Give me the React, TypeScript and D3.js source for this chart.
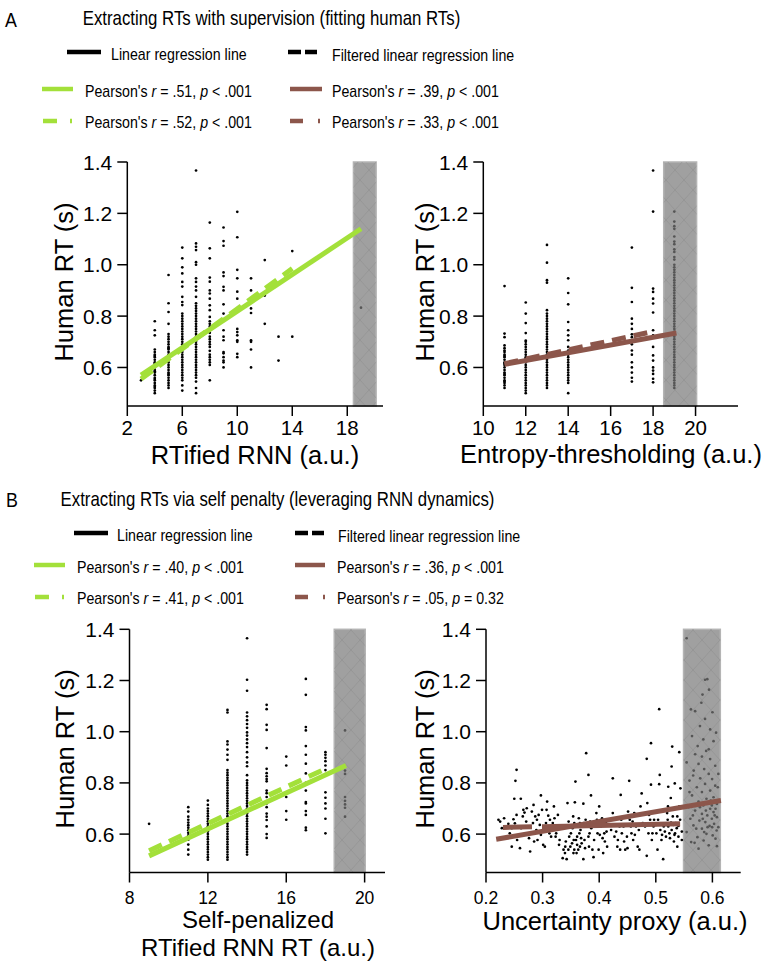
import React from "react";
import * as d3 from "d3";

const FONT = "'Liberation Sans', Arial, Helvetica, sans-serif";
const GREEN = "#a3e03a";
const BROWN = "#8c564b";

// ---------- data ----------
// Panel A-left: RTified RNN (a.u.) columns -> human RTs
const colsAL: [number, number[]][] = [
  [3, [0.55]],
  [4, [0.78, 0.745, 0.725, 0.67, 0.66, 0.65, 0.645, 0.64, 0.63, 0.62, 0.615, 0.61, 0.6, 0.59, 0.585, 0.58, 0.57, 0.56, 0.555, 0.55, 0.54, 0.53, 0.525, 0.52, 0.51, 0.5]],
  [5, [0.96, 0.85, 0.816, 0.77, 0.73, 0.72, 0.71, 0.7, 0.69, 0.68, 0.675, 0.67, 0.66, 0.65, 0.64, 0.635, 0.63, 0.62, 0.61, 0.6, 0.59, 0.58, 0.575, 0.57, 0.56, 0.55, 0.54, 0.53, 0.52]],
  [6, [1.067, 1.025, 0.99, 0.966, 0.933, 0.915, 0.875, 0.855, 0.843, 0.81, 0.8, 0.79, 0.78, 0.77, 0.76, 0.75, 0.74, 0.73, 0.72, 0.71, 0.7, 0.69, 0.68, 0.67, 0.66, 0.65, 0.64, 0.63, 0.62, 0.61, 0.6, 0.59, 0.58, 0.57, 0.56, 0.55, 0.53, 0.51]],
  [7, [1.367, 1.083, 1.07, 1.057, 1.01, 1.0, 0.947, 0.933, 0.915, 0.9, 0.875, 0.85, 0.84, 0.83, 0.82, 0.81, 0.8, 0.79, 0.78, 0.77, 0.76, 0.75, 0.74, 0.73, 0.72, 0.71, 0.7, 0.69, 0.68, 0.67, 0.66, 0.65, 0.64, 0.63, 0.62, 0.61, 0.6, 0.59, 0.58, 0.57, 0.56, 0.545, 0.52, 0.5]],
  [8, [1.164, 1.064, 1.025, 0.95, 0.934, 0.9, 0.888, 0.868, 0.842, 0.823, 0.797, 0.78, 0.77, 0.76, 0.745, 0.735, 0.72, 0.71, 0.7, 0.69, 0.68, 0.665, 0.65, 0.64, 0.63, 0.62, 0.61, 0.55]],
  [9, [1.145, 1.092, 1.074, 0.97, 0.956, 0.914, 0.9, 0.846, 0.81, 0.784, 0.745, 0.72, 0.706, 0.66, 0.655, 0.64, 0.627, 0.62, 0.6]],
  [10, [1.206, 1.107, 0.98, 0.947, 0.895, 0.868, 0.75, 0.738, 0.725, 0.706, 0.7, 0.653, 0.64]],
  [11, [0.947, 0.9, 0.83, 0.812, 0.706, 0.7, 0.67, 0.6]],
  [12, [1.018, 0.88, 0.77]],
  [13, [0.72, 0.627]],
  [14, [1.053, 0.72]],
  [19, [0.833]],
];

// Panel A-right: Entropy-thresholding (a.u.)
const colsAR: [number, number[]][] = [
  [11, [0.917, 0.732, 0.718, 0.686, 0.675, 0.666, 0.66, 0.65, 0.645, 0.64, 0.63, 0.62, 0.615, 0.61, 0.6, 0.59, 0.58, 0.575, 0.57, 0.56, 0.55, 0.545, 0.54, 0.53, 0.52]],
  [12, [0.853, 0.81, 0.773, 0.734, 0.705, 0.7, 0.69, 0.68, 0.67, 0.66, 0.65, 0.64, 0.635, 0.63, 0.62, 0.61, 0.6, 0.59, 0.58, 0.57, 0.56, 0.55, 0.54, 0.53, 0.52, 0.51, 0.5]],
  [13, [1.077, 1.008, 0.94, 0.93, 0.823, 0.81, 0.8, 0.79, 0.78, 0.77, 0.76, 0.75, 0.74, 0.73, 0.72, 0.71, 0.7, 0.69, 0.68, 0.67, 0.66, 0.65, 0.64, 0.63, 0.62, 0.61, 0.6, 0.59, 0.58, 0.57, 0.56, 0.55, 0.54, 0.53, 0.52]],
  [14, [0.947, 0.89, 0.846, 0.777, 0.745, 0.725, 0.706, 0.68, 0.666, 0.65, 0.64, 0.63, 0.62, 0.61, 0.6, 0.59, 0.58, 0.57, 0.56, 0.55, 0.54, 0.5]],
  [17, [1.067, 0.91, 0.855, 0.79, 0.77, 0.75, 0.729, 0.718, 0.69, 0.666, 0.65, 0.62, 0.6, 0.58, 0.56, 0.545]],
  [18, [1.367, 1.207, 0.907, 0.894, 0.868, 0.849, 0.814, 0.745, 0.725, 0.68, 0.647, 0.627, 0.6, 0.588, 0.575, 0.556, 0.542]],
  [19, [1.207, 1.168, 1.15, 1.14, 1.11, 1.09, 1.08, 1.06, 1.05, 1.03, 1.02, 1.0, 0.99, 0.98, 0.97, 0.96, 0.95, 0.94, 0.93, 0.92, 0.91, 0.9, 0.89, 0.88, 0.87, 0.86, 0.85, 0.84, 0.83, 0.82, 0.81, 0.8, 0.79, 0.78, 0.77, 0.76, 0.75, 0.74, 0.73, 0.72, 0.71, 0.7, 0.69, 0.68, 0.67, 0.66, 0.65, 0.64, 0.63, 0.62, 0.61, 0.6, 0.59, 0.58, 0.57, 0.56, 0.55, 0.54, 0.53, 0.52]],
];

// Panel B-left: Self-penalized RTified RNN RT (a.u.)
const colsBL: [number, number[]][] = [
  [9, [0.64]],
  [11, [0.705, 0.688, 0.668, 0.656, 0.645, 0.635, 0.625, 0.615, 0.605, 0.595, 0.585, 0.578, 0.559, 0.539, 0.52]],
  [12, [0.731, 0.714, 0.7, 0.69, 0.68, 0.67, 0.66, 0.65, 0.64, 0.63, 0.62, 0.61, 0.6, 0.59, 0.58, 0.57, 0.56, 0.55, 0.54, 0.53, 0.52, 0.51, 0.5]],
  [13, [1.085, 1.075, 0.962, 0.95, 0.93, 0.91, 0.89, 0.85, 0.84, 0.83, 0.82, 0.81, 0.8, 0.79, 0.78, 0.77, 0.76, 0.75, 0.74, 0.73, 0.72, 0.71, 0.7, 0.69, 0.68, 0.67, 0.66, 0.65, 0.64, 0.63, 0.62, 0.61, 0.6, 0.59, 0.58, 0.57, 0.56, 0.55, 0.54, 0.53, 0.52, 0.51, 0.5]],
  [14, [1.365, 1.203, 1.16, 1.075, 1.06, 1.045, 1.03, 1.015, 0.997, 0.985, 0.97, 0.955, 0.94, 0.92, 0.9, 0.88, 0.865, 0.83, 0.81, 0.8, 0.79, 0.78, 0.77, 0.76, 0.75, 0.74, 0.73, 0.72, 0.71, 0.7, 0.69, 0.68, 0.67, 0.66, 0.65, 0.64, 0.63, 0.62, 0.61, 0.6, 0.59, 0.58, 0.57, 0.56, 0.55, 0.54, 0.53, 0.52]],
  [15, [1.105, 1.088, 1.027, 1.007, 0.936, 0.855, 0.838, 0.826, 0.815, 0.806, 0.77, 0.76, 0.745, 0.72, 0.705, 0.68, 0.668, 0.655, 0.63, 0.6, 0.585]],
  [16, [0.903, 0.868, 0.76, 0.745, 0.69, 0.656]],
  [17, [1.206, 1.144, 1.018, 1.005, 0.944, 0.91, 0.875, 0.837, 0.8, 0.77, 0.725, 0.72, 0.69, 0.675, 0.625, 0.615]],
  [18, [0.92, 0.91, 0.898, 0.885, 0.868, 0.85, 0.763, 0.742, 0.72, 0.7, 0.66, 0.603]],
  [19, [1.005, 0.848, 0.835, 0.745, 0.73, 0.716, 0.703, 0.668]],
];

// Panel B-right: Uncertainty proxy (a.u.) vs human RT
const ptsBR: [number, number][] = [
  [0.222, 0.656], [0.225, 0.649], [0.232, 0.662], [0.228, 0.623], [0.235, 0.585], [0.236, 0.63],
  [0.2395, 0.64], [0.2485, 0.658], [0.2455, 0.623], [0.254, 0.675], [0.25, 0.738], [0.252, 0.808], [0.254, 0.851], [0.247, 0.59], [0.2455, 0.551], [0.242, 0.603], [0.251, 0.642], [0.255, 0.577],
  [0.26, 0.545], [0.2615, 0.738], [0.265, 0.669], [0.268, 0.684], [0.271, 0.649], [0.274, 0.63], [0.27, 0.603], [0.276, 0.584], [0.278, 0.532], [0.266, 0.695], [0.272, 0.701], [0.262, 0.623],
  [0.281, 0.688], [0.284, 0.714], [0.287, 0.669], [0.29, 0.656], [0.283, 0.643], [0.293, 0.675], [0.297, 0.751], [0.289, 0.616], [0.295, 0.636], [0.297, 0.597], [0.285, 0.571], [0.291, 0.577],
  [0.301, 0.558], [0.304, 0.551], [0.307, 0.695], [0.31, 0.672], [0.306, 0.643], [0.313, 0.656], [0.316, 0.623], [0.302, 0.616], [0.312, 0.603], [0.299, 0.695], [0.315, 0.59], [0.308, 0.727],
  [0.318, 0.643], [0.321, 0.662], [0.324, 0.603], [0.327, 0.675], [0.33, 0.577], [0.333, 0.623], [0.3355, 0.506], [0.337, 0.539], [0.329, 0.558], [0.325, 0.63], [0.32, 0.708], [0.323, 0.59],
  [0.3425, 0.502], [0.3395, 0.526], [0.3455, 0.539], [0.349, 0.551], [0.352, 0.564], [0.355, 0.577], [0.341, 0.571], [0.347, 0.59], [0.35, 0.603], [0.353, 0.623], [0.356, 0.643], [0.346, 0.649], [0.357, 0.724], [0.358, 0.805], [0.344, 0.721], [0.354, 0.669], [0.356, 0.539], [0.34, 0.551], [0.3545, 0.526], [0.349, 0.63],
  [0.36, 0.526], [0.363, 0.539], [0.366, 0.551], [0.369, 0.564], [0.372, 0.502], [0.374, 0.577], [0.361, 0.59], [0.365, 0.603], [0.367, 0.616], [0.37, 0.63], [0.373, 0.643], [0.376, 0.656], [0.372, 0.719], [0.377, 0.916], [0.364, 0.662], [0.359, 0.577], [0.368, 0.584], [0.375, 0.545], [0.366, 0.643], [0.361, 0.558],
  [0.381, 0.831], [0.3855, 0.751], [0.381, 0.59], [0.383, 0.603], [0.386, 0.623], [0.39, 0.51], [0.393, 0.63], [0.396, 0.656], [0.382, 0.551], [0.388, 0.539], [0.391, 0.577], [0.397, 0.603], [0.395, 0.682], [0.384, 0.649],
  [0.4, 0.708], [0.403, 0.63], [0.406, 0.584], [0.409, 0.603], [0.412, 0.643], [0.414, 0.551], [0.405, 0.662], [0.41, 0.571], [0.399, 0.539], [0.407, 0.526], [0.413, 0.61], [0.401, 0.597],
  [0.424, 0.818], [0.438, 0.753], [0.422, 0.656], [0.424, 0.682], [0.427, 0.59], [0.43, 0.61], [0.433, 0.577], [0.436, 0.63], [0.439, 0.656], [0.421, 0.616], [0.432, 0.551], [0.437, 0.539], [0.429, 0.636],
  [0.453, 0.808], [0.44, 0.603], [0.443, 0.63], [0.446, 0.539], [0.449, 0.59], [0.451, 0.688], [0.454, 0.656], [0.457, 0.603], [0.444, 0.571], [0.45, 0.545], [0.456, 0.63],
  [0.459, 0.649], [0.462, 0.682], [0.465, 0.63], [0.468, 0.551], [0.471, 0.539], [0.475, 0.759], [0.477, 0.643], [0.463, 0.597], [0.47, 0.616], [0.46, 0.577], [0.473, 0.708],
  [0.484, 0.894], [0.4915, 0.955], [0.4915, 0.793], [0.484, 0.515], [0.481, 0.63], [0.487, 0.603], [0.49, 0.656], [0.493, 0.577], [0.496, 0.63], [0.485, 0.721], [0.494, 0.603], [0.488, 0.675], [0.497, 0.656],
  [0.506, 1.088], [0.507, 0.831], [0.506, 0.795], [0.513, 0.502], [0.501, 0.603], [0.504, 0.656], [0.508, 0.616], [0.511, 0.597], [0.514, 0.63], [0.503, 0.539], [0.51, 0.577], [0.516, 0.61], [0.5, 0.636], [0.518, 0.59],
  [0.529, 0.942], [0.5415, 0.92], [0.528, 0.864], [0.522, 0.785], [0.5335, 0.798], [0.5265, 0.741], [0.52, 0.682], [0.521, 0.656], [0.522, 0.63], [0.524, 0.603], [0.525, 0.584], [0.528, 0.616], [0.531, 0.636], [0.534, 0.603], [0.537, 0.623], [0.54, 0.59], [0.543, 0.656], [0.546, 0.61], [0.532, 0.571], [0.538, 0.551], [0.535, 0.643], [0.5415, 0.708], [0.5435, 0.779], [0.53, 0.669], [0.527, 0.645], [0.533, 0.597], [0.54, 0.632], [0.546, 0.577], [0.5215, 0.708], [0.538, 0.669],
  // shaded region
  [0.5545, 1.365], [0.587, 1.203], [0.591, 1.205], [0.594, 1.164], [0.5825, 1.145], [0.562, 1.087], [0.5695, 1.08], [0.6, 1.076], [0.587, 1.05], [0.578, 1.022], [0.596, 1.009], [0.602, 0.963], [0.564, 0.983], [0.584, 0.97], [0.574, 0.944], [0.589, 0.925], [0.5695, 0.912], [0.5815, 0.903], [0.596, 0.893], [0.5545, 0.88], [0.605, 0.867], [0.5755, 0.874], [0.5855, 0.854], [0.567, 0.848], [0.5935, 0.835], [0.5995, 0.815], [0.5785, 0.818], [0.5595, 0.809], [0.587, 0.796], [0.605, 0.789], [0.5725, 0.783], [0.596, 0.77], [0.5815, 0.764], [0.564, 0.751], [0.602, 0.744], [0.5895, 0.738], [0.5755, 0.727], [0.608, 0.718], [0.584, 0.712], [0.558, 0.705], [0.596, 0.699], [0.5695, 0.692], [0.602, 0.686], [0.5815, 0.679], [0.591, 0.673], [0.608, 0.666], [0.561, 0.66], [0.599, 0.66], [0.577, 0.653], [0.5875, 0.647], [0.603, 0.64], [0.5665, 0.634], [0.595, 0.632], [0.5815, 0.621], [0.6075, 0.614], [0.5545, 0.608], [0.5895, 0.601], [0.6005, 0.595], [0.5735, 0.588], [0.5845, 0.575], [0.6055, 0.582], [0.5625, 0.569], [0.5935, 0.556], [0.5755, 0.543], [0.5685, 0.566], [0.608, 0.553],
  [0.599, 0.712], [0.604, 0.673], [0.5885, 0.692], [0.597, 0.731], [0.583, 0.66], [0.5715, 0.621], [0.5655, 0.673], [0.6105, 0.627], [0.5915, 0.627], [0.6055, 0.699], [0.5995, 0.627], [0.5855, 0.608], [0.578, 0.705], [0.5595, 0.764], [0.566, 0.829], [0.6095, 0.783], [0.5935, 0.931], [0.5805, 1.113], [0.6065, 0.996], [0.6105, 0.835],
];

// regression line endpoints [x, y]
const regALSolid: [number, number][] = [[3, 0.57], [19, 1.14]];
const regALDashed: [number, number][] = [[3, 0.555], [14, 0.985]];
const regARSolid: [number, number][] = [[11, 0.612], [19.1, 0.734]];
const regARDashed: [number, number][] = [[11, 0.615], [18, 0.74]];
const regBLSolid: [number, number][] = [[9, 0.515], [19.05, 0.868]];
const regBLDashed: [number, number][] = [[9, 0.535], [18, 0.855]];
const regBRSolid: [number, number][] = [[0.218, 0.58], [0.615, 0.731]];
const regBRDashed: [number, number][] = [[0.23, 0.626], [0.543, 0.64]];

// excluded (shaded) x-ranges
const shadeAL: [number, number] = [18.45, 20.1];
const shadeAR: [number, number] = [18.5, 20.05];
const shadeBL: [number, number] = [18.45, 20.03];
const shadeBR: [number, number] = [0.549, 0.614];

// ticks
const yTicks = [0.6, 0.8, 1.0, 1.2, 1.4];
const xTicksAL = [2, 6, 10, 14, 18];
const xTicksAR = [10, 12, 14, 16, 18, 20];
const xTicksBL = [8, 12, 16, 20];
const xTicksBR = [0.2, 0.3, 0.4, 0.5, 0.6];

// stats text
const statsA = [
  { r: ".51", p: "< .001" },
  { r: ".52", p: "< .001" },
  { r: ".39", p: "< .001" },
  { r: ".33", p: "< .001" },
];
const statsB = [
  { r: ".40", p: "< .001" },
  { r: ".41", p: "< .001" },
  { r: ".36", p: "< .001" },
  { r: ".05", p: "= 0.32" },
];

const flat = (cols: [number, number[]][]): [number, number][] =>
  cols.flatMap(([x, ys]) => ys.map((y) => [x, y] as [number, number]));

// ---------- components ----------
type PanelCfg = {
  id: string;
  xDomain: [number, number];
  xRange: [number, number];
  yRange: [number, number];
  xTicks: number[];
  xFmt: (n: number) => string;
  xTickSize: number;
  xTickDy: number;
  shade: [number, number];
  points: [number, number][];
  solid: [number, number][];
  dashed: [number, number][];
  dash: string;
  color: string;
  xLabel: string[];
  xLabelX: number;
  xLabelY: number[];
  xLabelSize: number;
  yLabelX: number;
};

const NText = ({ x, y, size, sx = 1, anchor = "start", children }: any) => (
  <text
    transform={`translate(${x},${y}) scale(${sx},1)`}
    fontSize={size}
    textAnchor={anchor}
    fontFamily={FONT}
    fill="#000"
  >
    {children}
  </text>
);

const Panel = ({ c }: { c: PanelCfg }) => {
  const x = d3.scaleLinear().domain(c.xDomain).range(c.xRange);
  const y = d3.scaleLinear().domain([0.45, 1.4]).range(c.yRange);
  const line = d3
    .line<[number, number]>()
    .x((d) => x(d[0]))
    .y((d) => y(d[1]));
  const x0 = c.xRange[0];
  const yb = c.yRange[0];
  const yt = y(1.4);
  const inShade = (v: number) => v >= c.shade[0] && v <= c.shade[1];
  return (
    <g>
      <rect
        x={x(c.shade[0])}
        y={yt}
        width={x(c.shade[1]) - x(c.shade[0])}
        height={yb - yt}
        fill="#a0a0a0"
        stroke="#b4b4b4"
        strokeWidth={1.5}
      />
      <rect
        x={x(c.shade[0])}
        y={yt}
        width={x(c.shade[1]) - x(c.shade[0])}
        height={yb - yt}
        fill="url(#hatch)"
      />
      {c.points.map((p, i) => (
        <circle
          key={i}
          cx={x(p[0])}
          cy={y(p[1])}
          r={1.35}
          fill={inShade(p[0]) ? "#555" : "#000"}
        />
      ))}
      <path d={line(c.solid) || ""} stroke={c.color} strokeWidth={5} fill="none" />
      <path
        d={line(c.dashed) || ""}
        stroke={c.color}
        strokeWidth={5}
        fill="none"
        strokeDasharray={c.dash}
      />
      {/* axes */}
      <line x1={x0} x2={x0} y1={yb} y2={yt} stroke="#000" strokeWidth={1.5} />
      <line x1={x0} x2={c.xRange[1]} y1={yb} y2={yb} stroke="#000" strokeWidth={1.5} />
      {yTicks.map((t) => (
        <g key={t}>
          <line x1={x0 - 10} x2={x0} y1={y(t)} y2={y(t)} stroke="#000" strokeWidth={1.5} />
          <text
            x={x0 - 15}
            y={y(t)}
            dy="0.36em"
            textAnchor="end"
            fontSize={21}
            fontFamily={FONT}
          >
            {d3.format(".1f")(t)}
          </text>
        </g>
      ))}
      {c.xTicks.map((t) => (
        <g key={t}>
          <line x1={x(t)} x2={x(t)} y1={yb} y2={yb + 10} stroke="#000" strokeWidth={1.5} />
          <text
            x={x(t)}
            y={yb + c.xTickDy}
            textAnchor="middle"
            fontSize={c.xTickSize}
            fontFamily={FONT}
          >
            {c.xFmt(t)}
          </text>
        </g>
      ))}
      {c.xLabel.map((s, i) => (
        <text
          key={s}
          x={c.xLabelX}
          y={c.xLabelY[i]}
          textAnchor="middle"
          fontSize={c.xLabelSize}
          fontFamily={FONT}
        >
          {s}
        </text>
      ))}
      <text
        transform={`translate(${c.yLabelX},${(yb + yt) / 2 - 2}) rotate(-90)`}
        textAnchor="middle"
        fontSize={25.5}
        fontFamily={FONT}
      >
        Human RT (s)
      </text>
    </g>
  );
};

const Pearson = ({ x, y, r, p }: any) => (
  <NText x={x} y={y} size={17} sx={0.835}>
    <tspan>Pearson's </tspan>
    <tspan fontStyle="italic">r</tspan>
    <tspan>{` = ${r}, `}</tspan>
    <tspan fontStyle="italic">p</tspan>
    <tspan>{` ${p}`}</tspan>
  </NText>
);

type LegendLayout = {
  row: number[];
  base: number[];
  blackSolid: [number, number];
  blackDash: [number, number];
  g: [number, number];
  b: [number, number];
  gDash: [number, number];
  bDash: [number, number];
  t1: number;
  t2: number;
  tl: number;
  tr: number;
};

const Legend = ({ L, stats }: { L: LegendLayout; stats: { r: string; p: string }[] }) => (
  <g>
    <line x1={L.blackSolid[0]} x2={L.blackSolid[1]} y1={L.row[0]} y2={L.row[0]} stroke="#000" strokeWidth={4.5} />
    <NText x={L.t1} y={L.base[0]} size={17} sx={0.835}>Linear regression line</NText>
    <line x1={L.blackDash[0]} x2={L.blackDash[1]} y1={L.row[0]} y2={L.row[0]} stroke="#000" strokeWidth={4.5} strokeDasharray="13,4,12,5,2,20" />
    <NText x={L.t2} y={L.base[0] + 1} size={17} sx={0.835}>Filtered linear regression line</NText>

    <line x1={L.g[0]} x2={L.g[1]} y1={L.row[1]} y2={L.row[1]} stroke={GREEN} strokeWidth={4.5} />
    <Pearson x={L.tl} y={L.base[1]} r={stats[0].r} p={stats[0].p} />
    <line x1={L.b[0]} x2={L.b[1]} y1={L.row[1]} y2={L.row[1]} stroke={BROWN} strokeWidth={4.5} />
    <Pearson x={L.tr} y={L.base[1]} r={stats[2].r} p={stats[2].p} />

    <line x1={L.gDash[0]} x2={L.gDash[1]} y1={L.row[2]} y2={L.row[2]} stroke={GREEN} strokeWidth={4.5} strokeDasharray="14,13,2,20" />
    <Pearson x={L.tl} y={L.base[2]} r={stats[1].r} p={stats[1].p} />
    <line x1={L.bDash[0]} x2={L.bDash[1]} y1={L.row[2]} y2={L.row[2]} stroke={BROWN} strokeWidth={4.5} strokeDasharray="13,15,2,20" />
    <Pearson x={L.tr} y={L.base[2]} r={stats[3].r} p={stats[3].p} />
  </g>
);

export default function App() {
  const fmtInt = d3.format("d");
  const fmt1 = d3.format(".1f");
  const panels: PanelCfg[] = [
    {
      id: "AL", xDomain: [2, 20.6], xRange: [127.3, 383], yRange: [406, 162],
      xTicks: xTicksAL, xFmt: fmtInt, xTickSize: 20.5, xTickDy: 29,
      shade: shadeAL, points: flat(colsAL), solid: regALSolid, dashed: regALDashed, dash: "14,8",
      color: GREEN, xLabel: ["RTified RNN (a.u.)"], xLabelX: 255, xLabelY: [464], xLabelSize: 25.5, yLabelX: 73,
    },
    {
      id: "AR", xDomain: [10, 22], xRange: [483.3, 738], yRange: [406, 162],
      xTicks: xTicksAR, xFmt: fmtInt, xTickSize: 20.5, xTickDy: 29,
      shade: shadeAR, points: flat(colsAR), solid: regARSolid, dashed: regARDashed, dash: "14,8",
      color: BROWN, xLabel: ["Entropy-thresholding (a.u.)"], xLabelX: 611, xLabelY: [463], xLabelSize: 25.5, yLabelX: 434,
    },
    {
      id: "BL", xDomain: [8, 21.04], xRange: [129.5, 385], yRange: [872.5, 629.3],
      xTicks: xTicksBL, xFmt: fmtInt, xTickSize: 17.5, xTickDy: 31,
      shade: shadeBL, points: flat(colsBL), solid: regBLSolid, dashed: regBLDashed, dash: "14,8",
      color: GREEN, xLabel: ["Self-penalized", "RTified RNN RT (a.u.)"], xLabelX: 258, xLabelY: [928, 956], xLabelSize: 24, yLabelX: 74,
    },
    {
      id: "BR", xDomain: [0.2, 0.65], xRange: [486, 740.7], yRange: [872.5, 629.3],
      xTicks: xTicksBR, xFmt: fmt1, xTickSize: 17.5, xTickDy: 31,
      shade: shadeBR, points: ptsBR, solid: regBRSolid, dashed: regBRDashed, dash: "29,10,140,10",
      color: BROWN, xLabel: ["Uncertainty proxy (a.u.)"], xLabelX: 615, xLabelY: [930], xLabelSize: 25.5, yLabelX: 434,
    },
  ];

  const legA: LegendLayout = {
    row: [52, 89, 121], base: [60, 97, 128],
    blackSolid: [67, 101], blackDash: [288, 321], g: [42, 73], b: [290, 322],
    gDash: [43, 72], bDash: [290, 320], t1: 111, t2: 332, tl: 85, tr: 332,
  };
  const legB: LegendLayout = {
    row: [533, 565, 597], base: [541, 573, 604],
    blackSolid: [74, 108], blackDash: [295, 328], g: [34, 65], b: [295, 325],
    gDash: [35, 64], bDash: [295, 325], t1: 117, t2: 338, tl: 77, tr: 337,
  };

  return (
    <svg
      width={781}
      height={964}
      style={{ position: "absolute", left: 0, top: 0, background: "#fff" }}
      fontFamily={FONT}
    >
      <defs>
        <pattern id="hatch" width={18} height={20} patternUnits="userSpaceOnUse">
          <path d="M0,0L18,20M18,0L0,20" stroke="#919191" strokeWidth={0.7} fill="none" />
        </pattern>
      </defs>
      <rect x={0} y={0} width={781} height={964} fill="#fff" />
      <NText x={5} y={27} size={21} sx={0.85}>A</NText>
      <NText x={271.5} y={25} size={20.5} sx={0.82} anchor="middle">
        Extracting RTs with supervision (fitting human RTs)
      </NText>
      <Legend L={legA} stats={statsA} />
      <NText x={6} y={507} size={21} sx={0.85}>B</NText>
      <NText x={277.5} y={506} size={20.5} sx={0.82} anchor="middle">
        Extracting RTs via self penalty (leveraging RNN dynamics)
      </NText>
      <Legend L={legB} stats={statsB} />
      {panels.map((p) => (
        <Panel key={p.id} c={p} />
      ))}
    </svg>
  );
}
